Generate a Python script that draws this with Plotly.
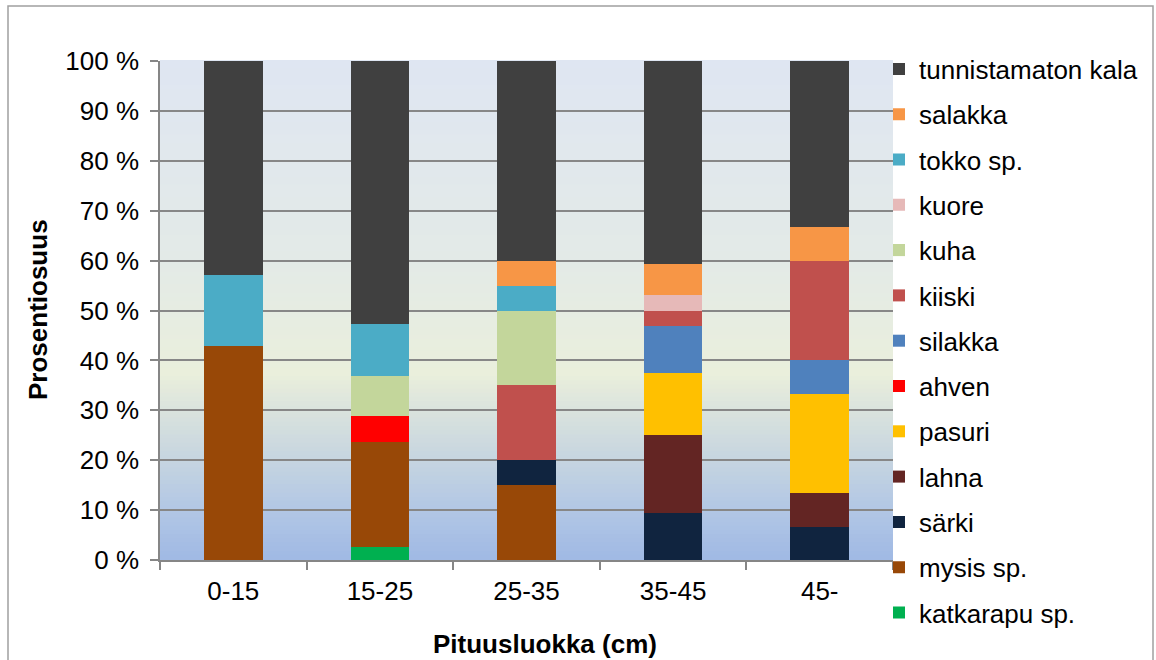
import plotly.graph_objects as go

# Length classes (cm)
categories = ["0-15", "15-25", "25-35", "35-45", "45-"]

# Diet composition per length class, percent of prey items (bottom of stack first)
katkarapu = [0, 2.63, 0, 0, 0]
mysis = [42.86, 21.05, 15.0, 0, 0]
sarki = [0, 0, 5.0, 9.375, 6.67]
lahna = [0, 0, 0, 15.625, 6.67]
pasuri = [0, 0, 0, 12.5, 20.0]
ahven = [0, 5.26, 0, 0, 0]
silakka = [0, 0, 0, 9.375, 6.67]
kiiski = [0, 0, 15.0, 3.125, 20.0]
kuha = [0, 7.89, 15.0, 0, 0]
kuore = [0, 0, 0, 3.125, 0]
tokko = [14.29, 10.53, 5.0, 0, 0]
salakka = [0, 0, 5.0, 6.25, 6.67]
tunnistamaton = [42.86, 52.63, 40.0, 40.625, 33.33]

y_ticks = [0, 10, 20, 30, 40, 50, 60, 70, 80, 90, 100]
y_ticktext = ["0 %", "10 %", "20 %", "30 %", "40 %", "50 %", "60 %", "70 %", "80 %", "90 %", "100 %"]

series = [
    ("katkarapu sp.", katkarapu, "#00B050"),
    ("mysis sp.", mysis, "#984807"),
    ("särki", sarki, "#10243F"),
    ("lahna", lahna, "#632523"),
    ("pasuri", pasuri, "#FFC000"),
    ("ahven", ahven, "#FF0000"),
    ("silakka", silakka, "#4F81BD"),
    ("kiiski", kiiski, "#C0504D"),
    ("kuha", kuha, "#C3D69B"),
    ("kuore", kuore, "#E6B9B8"),
    ("tokko sp.", tokko, "#4BACC6"),
    ("salakka", salakka, "#F79646"),
    ("tunnistamaton kala", tunnistamaton, "#404040"),
]

FONT = "Liberation Sans, Arial, sans-serif"
FS = 26
W, H = 1156, 660
L, R, T, B = 160, 263, 61, 100
PW, PH = W - L - R, H - T - B

fig = go.Figure()
n = len(series)
for i, (name, vals, color) in enumerate(series):
    fig.add_trace(go.Bar(
        x=categories, y=vals, name=name, legendgroup=name,
        legendrank=n - i,  # top of the stack listed first
        marker=dict(color=color, line=dict(width=0)),
    ))


def px_x(px):
    return (px - L) / PW


def px_y(py):
    return (H - B - py) / PH


# Vertical background gradient of the plot area (top -> bottom)
stops = [
    (0.00, (0xDF, 0xE6, 0xF2)),
    (0.40, (0xE3, 0xEA, 0xE7)),
    (0.63, (0xEA, 0xEF, 0xDC)),
    (0.70, (0xDA, 0xE3, 0xDD)),
    (0.80, (0xC6, 0xD5, 0xE0)),
    (0.90, (0xB2, 0xC7, 0xE5)),
    (1.00, (0xA0, 0xB9, 0xE4)),
]


def grad_color(t):
    for (t0, c0), (t1, c1) in zip(stops[:-1], stops[1:]):
        if t0 <= t <= t1:
            f = (t - t0) / (t1 - t0) if t1 > t0 else 0
            c = [round(a + (b - a) * f) for a, b in zip(c0, c1)]
            return "rgb({},{},{})".format(*c)
    return "rgb({},{},{})".format(*stops[-1][1])


shapes = []
n_bands = 120
for i in range(n_bands):
    t = (i + 0.5) / n_bands
    shapes.append(dict(
        type="rect", xref="paper", yref="paper",
        x0=0, x1=1, y0=1 - (i + 1) / n_bands, y1=1 - i / n_bands + 0.002,
        fillcolor=grad_color(t), line=dict(width=0), layer="below",
    ))

# Chart frame
shapes.append(dict(
    type="rect", xref="paper", yref="paper",
    x0=px_x(8), x1=px_x(1153), y0=px_y(680), y1=px_y(6),
    line=dict(color="#A0A0A0", width=1.5), fillcolor="rgba(0,0,0,0)", layer="above",
))

fig.update_layout(
    width=W, height=H,
    margin=dict(l=L, r=R, t=T, b=B, autoexpand=False),
    paper_bgcolor="white",
    plot_bgcolor="rgba(0,0,0,0)",
    barmode="stack",
    barnorm="percent",
    bargap=0.6,
    font=dict(family=FONT, size=FS, color="black"),
    shapes=shapes,
    showlegend=True,
    legend=dict(
        x=px_x(879), xanchor="left",
        yref="container", y=1 - 45.5 / H, yanchor="top",
        maxheight=1,
        traceorder="grouped", tracegroupgap=8.5,
        font=dict(family=FONT, size=FS, color="black"),
        bgcolor="rgba(0,0,0,0)", borderwidth=0,
    ),
    annotations=[
        dict(text="<b>Prosentiosuus</b>", xref="paper", yref="paper",
             x=px_x(38), y=px_y(310), textangle=-90, showarrow=False,
             font=dict(family=FONT, size=26, color="black"),
             xanchor="center", yanchor="middle"),
        dict(text="<b>Pituusluokka (cm)</b>", xref="paper", yref="paper",
             x=px_x(545), y=px_y(644), showarrow=False,
             font=dict(family=FONT, size=26, color="black"),
             xanchor="center", yanchor="middle"),
    ],
)

fig.update_xaxes(
    type="category", showgrid=False, zeroline=False,
    showline=True, linecolor="#868686", linewidth=1.5,
    ticks="outside", tickson="boundaries", ticklen=8, tickcolor="#868686", tickwidth=1.5,
    ticklabelstandoff=7,
    tickfont=dict(family=FONT, size=FS, color="black"),
)
fig.update_yaxes(
    range=[0, 100], tickvals=y_ticks, ticktext=y_ticktext,
    showgrid=True, gridcolor="#878787", gridwidth=1.5, zeroline=False,
    showline=True, linecolor="#868686", linewidth=1.5,
    ticks="outside", ticklen=8, tickcolor="#868686", tickwidth=1.5,
    ticklabelstandoff=6,
    tickfont=dict(family=FONT, size=FS, color="black"),
)

fig.write_html("out.html")
